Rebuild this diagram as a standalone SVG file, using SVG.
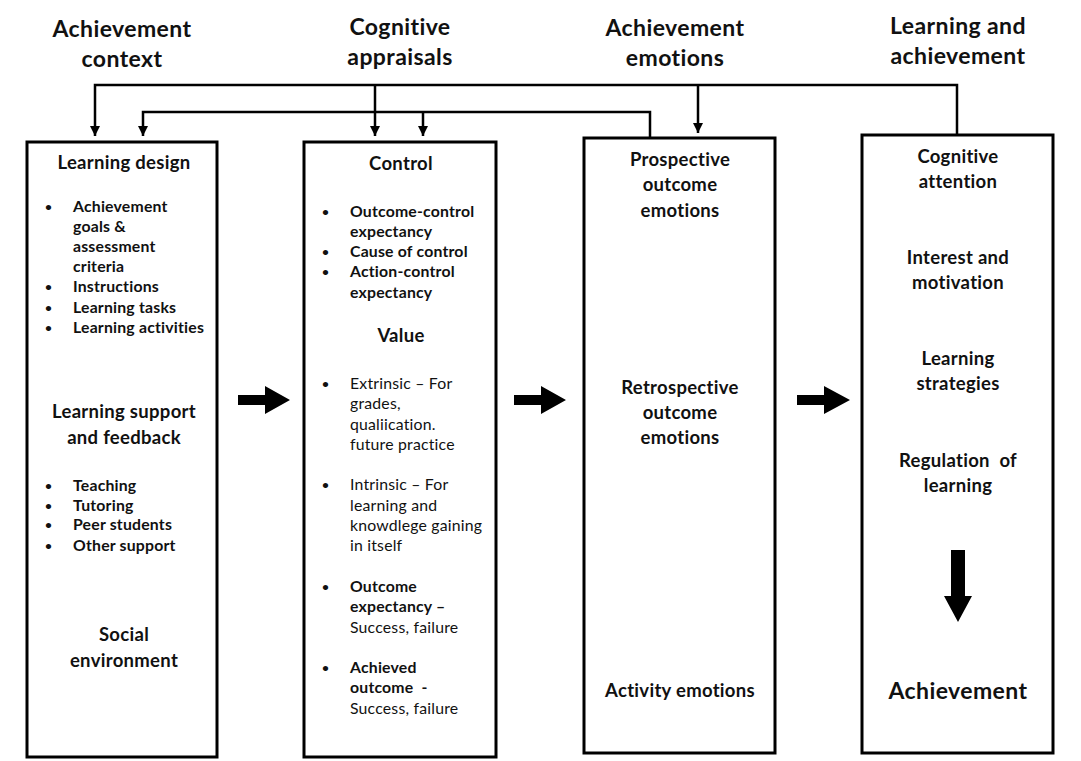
<svg xmlns="http://www.w3.org/2000/svg" width="1081" height="761" viewBox="0 0 1081 761">
<defs>
<marker id="ah" viewBox="0 0 10 10" refX="10" refY="5" markerWidth="4" markerHeight="5" markerUnits="strokeWidth" orient="auto">
<path d="M0,0 L10,5 L0,10 z" fill="#000"/>
</marker>
<style>
text{font-family:Lato,"Liberation Sans",sans-serif;fill:#111;}
.h{font-size:23px;font-weight:bold;text-anchor:middle;letter-spacing:0.4px;}
.t{font-size:18.5px;font-weight:bold;text-anchor:middle;letter-spacing:0.3px;}
.b{font-size:15.8px;font-weight:bold;letter-spacing:0.2px;}
.r{font-size:15.8px;font-weight:normal;letter-spacing:0.2px;}
.d{font-size:12px;font-weight:bold;}
.box{fill:#fff;stroke:#000;stroke-width:3;}
.c{fill:none;stroke:#000;stroke-width:2.5;}
</style>
</defs>
<rect width="1081" height="761" fill="#fff"/>

<g id="headers">
<text class="h" x="122" y="37">Achievement</text>
<text class="h" x="122" y="67">context</text>
<text class="h" x="400" y="35">Cognitive</text>
<text class="h" x="400" y="65">appraisals</text>
<text class="h" x="675" y="36">Achievement</text>
<text class="h" x="675" y="66">emotions</text>
<text class="h" x="958" y="34">Learning and</text>
<text class="h" x="958" y="64">achievement</text>
</g>

<g id="connectors">
<path class="c" d="M957,134 V85 H95 V136" marker-end="url(#ah)"/>
<path class="c" d="M375,85 V136" marker-end="url(#ah)"/>
<path class="c" d="M698,85 V133" marker-end="url(#ah)"/>
<path class="c" d="M650,137 V112 H143 V136" marker-end="url(#ah)"/>
<path class="c" d="M423,112 V136" marker-end="url(#ah)"/>
<path d="M238,395 H265 V386 L290,400 L265,414 V405 H238 z" fill="#000"/>
<path d="M514,395 H541 V386 L566,400 L541,414 V405 H514 z" fill="#000"/>
<path d="M797,395 H824 V386 L850,400 L824,414 V405 H797 z" fill="#000"/>
</g>

<g id="node-context">
<rect class="box" x="27" y="142" width="190" height="615"/>
<text class="t" x="124" y="169">Learning design</text>
<g class="d">
<text x="45" y="211">•</text>
<text x="45" y="291">•</text>
<text x="45" y="312">•</text>
<text x="45" y="332">•</text>
<text x="45" y="490">•</text>
<text x="45" y="510">•</text>
<text x="45" y="529">•</text>
<text x="45" y="550">•</text>
</g>
<g class="b">
<text x="73" y="212">Achievement</text>
<text x="73" y="232">goals &amp;</text>
<text x="73" y="252">assessment</text>
<text x="73" y="272">criteria</text>
<text x="73" y="292">Instructions</text>
<text x="73" y="313">Learning tasks</text>
<text x="73" y="333">Learning activities</text>
</g>
<text class="t" x="124" y="418">Learning support</text>
<text class="t" x="124" y="444">and feedback</text>
<g class="b">
<text x="73" y="491">Teaching</text>
<text x="73" y="511">Tutoring</text>
<text x="73" y="530">Peer students</text>
<text x="73" y="551">Other support</text>
</g>
<text class="t" x="124" y="641">Social</text>
<text class="t" x="124" y="667">environment</text>
</g>

<g id="node-appraisals">
<rect class="box" x="304" y="142" width="192" height="615"/>
<text class="t" x="401" y="170">Control</text>
<g class="d">
<text x="322" y="216">•</text>
<text x="322" y="256">•</text>
<text x="322" y="276">•</text>
<text x="322" y="388">•</text>
<text x="322" y="489">•</text>
<text x="322" y="591">•</text>
<text x="322" y="672">•</text>
</g>
<g class="b">
<text x="350" y="217">Outcome-control</text>
<text x="350" y="237">expectancy</text>
<text x="350" y="257">Cause of control</text>
<text x="350" y="277">Action-control</text>
<text x="350" y="298">expectancy</text>
</g>
<text class="t" x="401" y="342">Value</text>
<g class="r">
<text x="350" y="389">Extrinsic – For</text>
<text x="350" y="409">grades,</text>
<text x="350" y="430">qualiication.</text>
<text x="350" y="450">future practice</text>
<text x="350" y="490">Intrinsic – For</text>
<text x="350" y="511">learning and</text>
<text x="350" y="531">knowdlege gaining</text>
<text x="350" y="551">in itself</text>
</g>
<g class="b">
<text x="350" y="592">Outcome</text>
<text x="350" y="612">expectancy –</text>
</g>
<text class="r" x="350" y="633">Success, failure</text>
<g class="b">
<text x="350" y="673">Achieved</text>
<text x="350" y="693" xml:space="preserve">outcome  -</text>
</g>
<text class="r" x="350" y="714">Success, failure</text>
</g>

<g id="node-emotions">
<rect class="box" x="584" y="138" width="191" height="615"/>
<text class="t" x="680" y="166">Prospective</text>
<text class="t" x="680" y="191">outcome</text>
<text class="t" x="680" y="217">emotions</text>
<text class="t" x="680" y="394">Retrospective</text>
<text class="t" x="680" y="419">outcome</text>
<text class="t" x="680" y="444">emotions</text>
<text class="t" x="680" y="697">Activity emotions</text>
</g>

<g id="node-learning">
<rect class="box" x="862" y="135" width="191" height="618"/>
<text class="t" x="958" y="163">Cognitive</text>
<text class="t" x="958" y="188">attention</text>
<text class="t" x="958" y="264">Interest and</text>
<text class="t" x="958" y="289">motivation</text>
<text class="t" x="958" y="365">Learning</text>
<text class="t" x="958" y="390">strategies</text>
<text class="t" x="958" y="467" xml:space="preserve">Regulation  of</text>
<text class="t" x="958" y="492">learning</text>
<path d="M951,550 H965 V596 H972 L958,622 L944,596 H951 z" fill="#000"/>
<text class="h" x="958" y="699">Achievement</text>
</g>
</svg>
